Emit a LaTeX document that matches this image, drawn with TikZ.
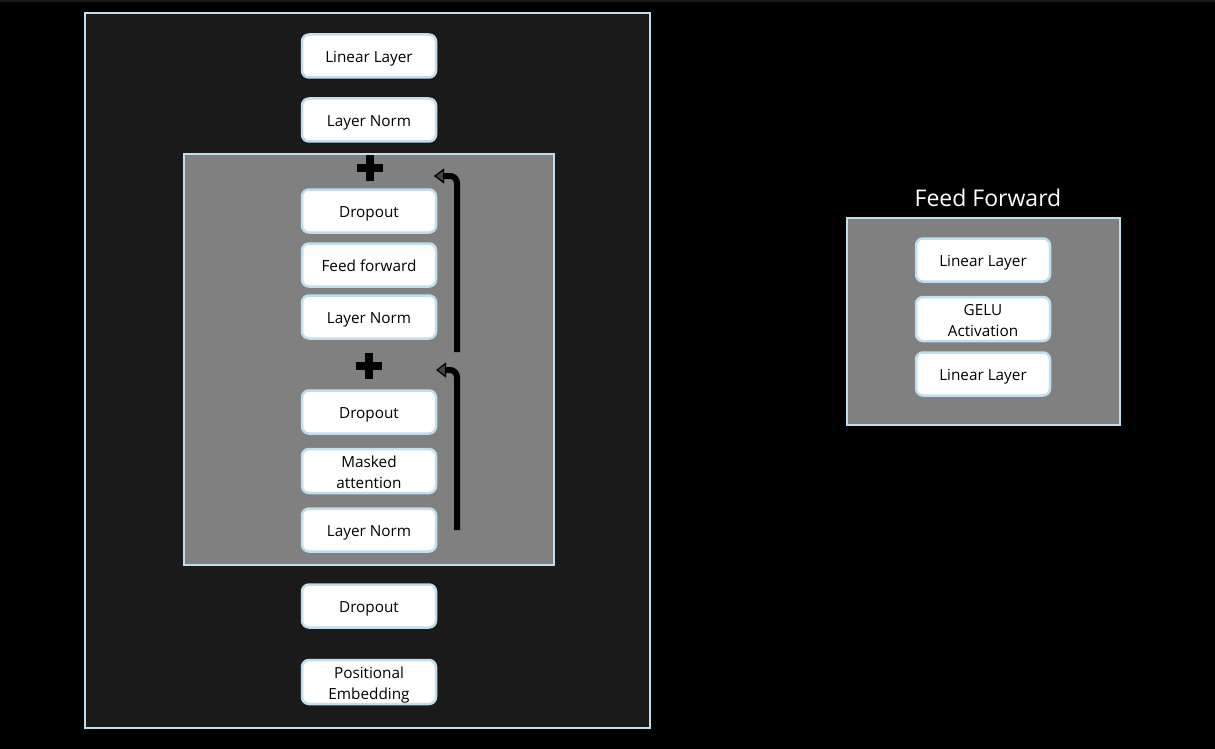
\documentclass[tikz,border=0pt]{standalone}
\usepackage{fontspec}
\setmainfont{Open Sans}
\usetikzlibrary{arrows.meta,calc}
\definecolor{edgeblue}{HTML}{BFDFF0}
\definecolor{outerfill}{HTML}{1A1A1A}
\definecolor{innerfill}{HTML}{808080}
\newcommand{\blktext}[1]{\raisebox{-2.5pt}[\height][\depth]{\begin{tabular}{@{}c@{}}#1\end{tabular}}}
\tikzset{
  blk/.style={rectangle, fill=white, draw=edgeblue, line width=2.5pt, rounded corners=7pt,
    minimum width=134pt, minimum height=43pt, inner sep=1pt,
    font=\fontsize{15.3}{21}\selectfont, text=black},
  panel/.style={draw=edgeblue, line width=2pt},
  plusbar/.style={fill=black},
  skip/.style={line width=6pt, draw=black, rounded corners=7pt,
    -{Triangle[length=10pt,width=15pt,line width=1.2pt,fill=gray!55!black]}},
}
\begin{document}
\begin{tikzpicture}[x=1pt,y=-1pt]
\useasboundingbox (0,0) rectangle (1215,749);
\fill[black] (0,0) rectangle (1215,749);
\fill[outerfill] (0,0) rectangle (1215,2);
% outer panel
\draw[panel, fill=outerfill] (85,13) rectangle (650,728);
% inner panel
\draw[panel, fill=innerfill] (184,154) rectangle (554,565);
% right panel
\draw[panel, fill=innerfill] (847,218) rectangle (1120,425);
\node[text=white, font=\fontsize{23}{26}\selectfont] (fftitle) at (988,198) {Feed Forward};

% left stack
\node[blk] (lin) at (369,56) {\blktext{Linear Layer}};
\node[blk] (ln3) at (369,120) {\blktext{Layer Norm}};
\node[blk] (do2) at (369,211) {\blktext{Dropout}};
\node[blk] (ff) at (369,265) {\blktext{Feed forward}};
\node[blk] (ln2) at (369,317) {\blktext{Layer Norm}};
\node[blk] (do1) at (369,412) {\blktext{Dropout}};
\node[blk] (ma) at (369,471) {\blktext{Masked\\attention}};
\node[blk] (ln1) at (369,530) {\blktext{Layer Norm}};
\node[blk] (do0) at (369,606) {\blktext{Dropout}};
\node[blk] (pe) at (369,682) {\blktext{Positional\\Embedding}};

% plus signs
\foreach \n/\cx/\cy in {plusa/370/168, plusb/369/366}{
  \coordinate (\n) at (\cx,\cy);
  \fill[plusbar] ($(\n)+(-13,-4)$) rectangle ($(\n)+(13,4)$);
  \fill[plusbar] ($(\n)+(-4,-13)$) rectangle ($(\n)+(4,13)$);
}

% skip arrows
\coordinate (s2a) at (457,352);
\coordinate (s2b) at (457,176);
\coordinate (s2c) at (434,176);
\coordinate (s1a) at (457,530);
\coordinate (s1b) at (457,370);
\coordinate (s1c) at (436,370);
\draw[skip] (s2a) -- (s2b) -- (s2c);
\draw[skip] (s1a) -- (s1b) -- (s1c);

% right stack
\node[blk] (fl1) at (983,260) {\blktext{Linear Layer}};
\node[blk] (gelu) at (983,319) {\blktext{GELU\\Activation}};
\node[blk] (fl2) at (983,374) {\blktext{Linear Layer}};
\end{tikzpicture}
\end{document}
